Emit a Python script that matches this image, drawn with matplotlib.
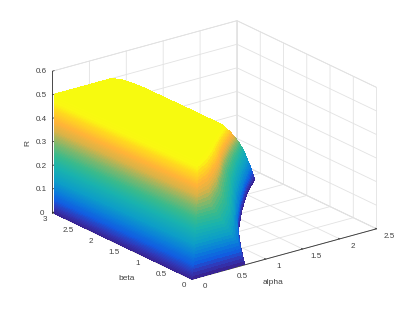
import numpy as np
import matplotlib
matplotlib.use("Agg")
import matplotlib.pyplot as plt
from matplotlib.colors import LinearSegmentedColormap
from matplotlib.text import Text

# Tick values and labels
alpha_ticks = [0, 0.5, 1, 1.5, 2, 2.5]
beta_ticks = [0, 0.5, 1, 1.5, 2, 2.5, 3]
R_ticks = [0, 0.1, 0.2, 0.3, 0.4, 0.5, 0.6]
alpha_labels = ["0", "0.5", "1", "1.5", "2", "2.5"]
beta_labels = ["0", "0.5", "1", "1.5", "2", "2.5", "3"]
R_labels = ["0", "0.1", "0.2", "0.3", "0.4", "0.5", "0.6"]

# Surface: for each R level, alpha and beta along the level curve
R_levels = [0.0, 0.1, 0.2, 0.3, 0.4, 0.5]
level_alpha = [
    [0.00, 0.726, 1.021, 1.280, 1.676, 2.035, 2.338],
    [0.05, 0.639, 0.874, 1.109, 1.442, 1.774, 2.123],
    [0.07, 0.437, 0.706, 0.994, 1.282, 1.597, 1.928],
    [0.07, 0.254, 0.540, 0.809, 1.060, 1.329, 1.614],
    [0.07, 0.274, 0.470, 0.657, 0.827, 1.033, 1.274],
    [0.07, 0.319, 0.410, 0.506, 0.613, 0.720, 0.920],
]
level_beta = [
    [0.00, 0.022, 0.580, 1.033, 1.590, 2.043, 2.362],
    [0.03, 0.033, 0.416, 0.799, 1.275, 1.707, 2.122],
    [0.03, 0.012, 0.317, 0.743, 1.169, 1.570, 1.957],
    [0.005, 0.019, 0.309, 0.660, 0.982, 1.288, 1.578],
    [0.00, 0.117, 0.305, 0.500, 0.712, 0.937, 1.176],
    [0.00, 0.190, 0.290, 0.386, 0.495, 0.604, 0.790],
]
# Top plateau: far edge of the R = 0.5 region
top_beta = [3.0, 2.9, 2.75, 2.5, 1.5, 0.79, 0.604, 0.386, 0.19, 0.0]
top_edge_alpha = [0.80, 0.86, 0.89, 0.91, 0.92, 0.92, 0.72, 0.506, 0.319, 0.07]
top_R = 0.5
R_max = 0.5

parula = LinearSegmentedColormap.from_list("parula", [
    (0.00, (0.22, 0.14, 0.58)), (0.05, (0.19, 0.22, 0.72)), (0.11, (0.07, 0.36, 0.88)),
    (0.18, (0.04, 0.48, 0.86)), (0.28, (0.05, 0.62, 0.78)), (0.40, (0.10, 0.70, 0.68)),
    (0.50, (0.22, 0.73, 0.55)), (0.60, (0.50, 0.72, 0.42)), (0.70, (0.85, 0.70, 0.28)),
    (0.78, (1.00, 0.70, 0.22)), (0.88, (1.00, 0.85, 0.12)), (0.94, (0.98, 0.97, 0.07)),
    (1.00, (0.97, 0.98, 0.06))])

plt.rcParams["font.family"] = ["Liberation Sans", "DejaVu Sans"]
TXT = "#404040"
fig = plt.figure(figsize=(4.15, 3.12), dpi=100)
ax = fig.add_axes([54.3 / 415, 1.8 / 312, 312 / 415, 1.0], projection="3d",
                  proj_type="ortho", computed_zorder=False)
ax.patch.set_visible(False)
ax.view_init(elev=21.2, azim=-127.1)
ax.set_box_aspect((230.6, 230.6, 151.2), zoom=1.122)
ax.set_xlim(0, 2.5); ax.set_ylim(0, 3); ax.set_zlim(0, 0.6)

# Right-hand sheet on a render mesh
Rf = np.linspace(0, 0.5, 36)
n_st = len(level_alpha[0])
sf = np.linspace(0, n_st - 1, 61)
la = np.array(level_alpha); lb = np.array(level_beta)
A = np.array([np.interp(Rf, R_levels, la[:, i]) for i in range(n_st)]).T
B = np.array([np.interp(Rf, R_levels, lb[:, i]) for i in range(n_st)]).T
AF = np.array([np.interp(sf, np.arange(n_st), r) for r in A])
BF = np.array([np.interp(sf, np.arange(n_st), r) for r in B])
ZF = np.repeat(Rf[:, None], len(sf), axis=1)
ax.plot_surface(AF, BF, ZF, facecolors=parula(ZF / R_max), rstride=1, cstride=1, shade=False,
                linewidth=0, antialiased=False)

# Left wall facing the viewer
Rw = np.linspace(0, 0.5, 91)
W_A = np.column_stack([np.zeros_like(Rw), np.interp(Rw, R_levels, la[:, 0])])
W_B = np.column_stack([np.full_like(Rw, 3.0), np.interp(Rw, R_levels, lb[:, 0])])
W_Z = np.column_stack([Rw, Rw])
ax.plot_surface(W_A, W_B, W_Z, facecolors=parula(W_Z / R_max), rstride=1, cstride=1,
                shade=False, linewidth=0, antialiased=False)

# Plateau
tb = np.array(top_beta); te = np.array(top_edge_alpha)
T_B = np.column_stack([np.linspace(3, 0, len(tb)), tb])
T_A = np.column_stack([0.07 * (3 - T_B[:, 0]) / 3, te])
T_Z = np.full_like(T_A, top_R)
ax.plot_surface(T_A, T_B, T_Z, facecolors=parula(T_Z / R_max), rstride=1, cstride=1,
                shade=False, linewidth=0, antialiased=False)

for axis, t, l in ((ax.xaxis, alpha_ticks, alpha_labels), (ax.yaxis, beta_ticks, beta_labels),
                   (ax.zaxis, R_ticks, R_labels)):
    axis.set_ticks(t); axis.set_ticklabels(l)
    axis.set_pane_color((1, 1, 1, 1))
    axis.pane.set_edgecolor("#d8d8d8"); axis.pane.set_linewidth(0.5)
    axis.line.set_color("#303030"); axis.line.set_linewidth(0.6)
    axis._axinfo["grid"].update(color="#e2e2e2", linewidth=0.6)
    axis._axinfo["tick"].update(inward_factor=0.0, outward_factor=0.12, linewidth={True: 0.5, False: 0.5})
ax.tick_params(labelsize=5.8, labelcolor=TXT, color="#303030", pad=-3)

fig.canvas.draw()
inv = ax.transData.inverted()

def nudge(label, dx, dy):
    """Shift a tick label by display pixels whenever mplot3d repositions it."""
    (x0, y0), (x1, y1) = inv.transform([(0, 0), (dx, dy)])
    label.set_position = lambda p: Text.set_position(label, (p[0] + x1 - x0, p[1] + y1 - y0))

for axis, dx, dy in ((ax.xaxis, 7, 5), (ax.yaxis, 0, 5), (ax.zaxis, 3, 2)):
    for tick in axis.get_major_ticks():
        nudge(tick.label1, dx, dy)

# Axis labels, pinned at their pixel positions in the figure
for axis, setter, text, px, py, rot in ((ax.xaxis, ax.set_xlabel, "alpha", 273, 283, 0),
                                        (ax.yaxis, ax.set_ylabel, "beta", 127, 278, 0),
                                        (ax.zaxis, ax.set_zlabel, "R", 28, 143, 90)):
    setter(text, fontsize=6, color=TXT)
    axis.set_rotate_label(False)
    lab = axis.label
    lab.set_rotation(rot)
    axis._axinfo["label"].update(va="center", ha="center")
    pos = inv.transform((px, 312 - py))
    Text.set_position(lab, pos)
    lab.set_position = lambda p: None
fig.savefig("out.png", dpi=100)
